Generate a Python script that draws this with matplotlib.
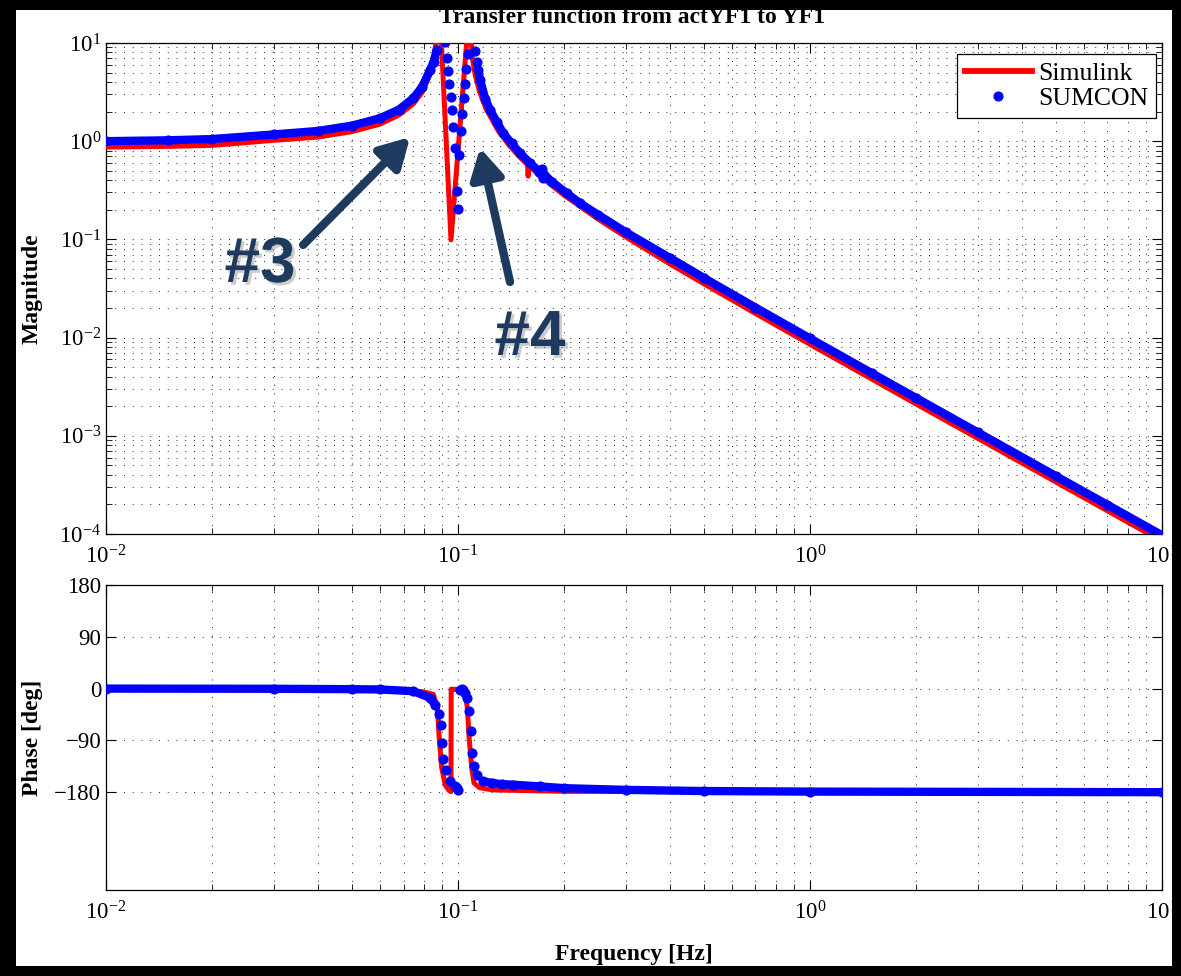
import numpy as np
import matplotlib.pyplot as plt
from matplotlib.patches import Rectangle
from matplotlib.lines import Line2D
import matplotlib.patheffects as pe

plt.rcParams['font.family'] = ['Liberation Serif', 'DejaVu Serif']
plt.rcParams['mathtext.fontset'] = 'stix'

# magnitude, Simulink (red line)
sim_mag_freq = [0.010, 0.015, 0.020, 0.030, 0.040, 0.050, 0.060, 0.068, 0.0746, 0.079,
                0.0833, 0.0852, 0.0870, 0.0886, 0.0955, 0.1074, 0.1100, 0.1120, 0.1150,
                0.1200, 0.1300, 0.1400, 0.1500, 0.1570, 0.1575, 0.1582, 0.1590, 0.1700,
                0.2000, 0.2500, 0.3000, 0.4000, 0.5000, 0.7000, 1.0, 1.5, 2.0, 3.0, 5.0,
                7.0, 10.0]
sim_mag = [0.87, 0.885, 0.905, 1.02, 1.10, 1.25, 1.49, 1.85, 2.40, 3.12,
           4.80, 6.60, 11.5, 25.0, 0.099, 20.0, 6.74, 4.67, 3.23,
           2.15, 1.28, 0.899, 0.685, 0.582, 0.575, 0.44, 0.565, 0.449,
           0.282, 0.161, 0.1055, 0.0562, 0.0352, 0.0176, 0.00852, 0.00377, 0.00211,
           0.000939, 0.000338, 0.000172, 0.0000844]

# magnitude, SUMCON (blue dots)
sum_mag_freq = [0.010, 0.015, 0.020, 0.030, 0.040, 0.050, 0.060, 0.068, 0.0746, 0.079,
                0.0833, 0.0852, 0.0870, 0.0890, 0.0910, 0.09185, 0.09288, 0.09385,
                0.09447, 0.09534, 0.09615, 0.09698, 0.09806, 0.09915, 0.10020, 0.10085,
                0.10178, 0.10285, 0.10366, 0.10434, 0.10537, 0.10655, 0.1075, 0.1090,
                0.1105, 0.1117, 0.1130, 0.1142, 0.1155, 0.1195, 0.1233, 0.1290, 0.1345,
                0.1420, 0.1500, 0.1600, 0.1700, 0.1728, 0.1740, 0.1760, 0.1850, 0.2036,
                0.2222, 0.2500, 0.3000, 0.4000, 0.5000, 0.7000, 1.0, 1.5, 2.0, 3.0, 5.0,
                7.0, 10.0]
sum_mag = [1.00, 1.02, 1.05, 1.17, 1.27, 1.44, 1.71, 2.10, 2.73, 3.55,
           5.30, 6.40, 8.50, 12.0, 30.0, 10.2, 7.08, 5.19,
           3.80, 2.82, 2.06, 1.405, 0.847, 0.311, 0.204, 0.724,
           1.27, 1.905, 2.73, 3.80, 5.44, 7.67, 12.0, 30.0,
           12.0, 8.35, 6.45, 5.31, 4.20, 2.70, 2.08, 1.55, 1.20,
           0.95, 0.753, 0.600, 0.490, 0.52, 0.42, 0.455, 0.385, 0.2946,
           0.2331, 0.178, 0.118, 0.0647, 0.0404, 0.0202, 0.0098, 0.00433, 0.00243,
           0.00108, 0.000388, 0.000198, 0.0000970]

# phase, Simulink
sim_ph_freq = [0.010, 0.050, 0.070, 0.080, 0.0851, 0.0874, 0.0885, 0.0899, 0.0919, 0.0940,
               0.09550, 0.09560, 0.1000, 0.1030, 0.1047, 0.1063, 0.1077, 0.1094, 0.1110,
               0.1150, 0.1250, 0.2000, 1.0, 10.0]
sim_ph = [0, -0.6, -2.5, -6, -10, -34, -90, -138, -167, -176,
          -179, -1, -1.5, -2.5, -4, -34, -91, -138, -164,
          -172, -176, -178.5, -179.7, -180]

# phase, SUMCON
sum_ph_freq = [0.010, 0.030, 0.050, 0.060, 0.0746, 0.0833, 0.0860, 0.0885, 0.0893, 0.08988,
               0.09083, 0.09226, 0.09490, 0.09806, 0.09955, 0.1003, 0.1013, 0.1024, 0.1035,
               0.1047, 0.1063, 0.1077, 0.1089, 0.1096, 0.1110, 0.1130, 0.1180, 0.1250,
               0.1330, 0.1436, 0.1710, 0.2000, 0.3000, 0.5000, 1.0, 10.0]
sum_ph = [0, -0.3, -1, -1.5, -4.5, -16, -28, -44, -63, -95,
          -122, -141, -161, -170, -172, -176, -2, -1, -2,
          -8, -16, -39, -73, -112, -135, -150, -161, -164,
          -166, -167, -170, -173, -176, -178, -179, -180]

navy = '#1F3A5F'
red = '#FF0000'
blue = '#0000FF'
grid_kw = dict(color='#222222', linestyle=(0, (1, 8)), linewidth=0.7)
ms = 6.3
band = 6.0

fig = plt.figure(figsize=(11.81, 9.76), dpi=100)
ax1 = fig.add_axes([0.0898, 0.4529, 0.8941, 0.5031])
ax2 = fig.add_axes([0.0898, 0.0881, 0.8941, 0.3125])

# magnitude
f_s = np.array(sum_mag_freq)
m_s = np.array(sum_mag)
ax1.plot(sim_mag_freq, sim_mag, color=red, lw=3.6, zorder=3)
ax1.plot(np.where(f_s < 0.0875, f_s, np.nan), m_s, color=blue, lw=band,
         solid_capstyle='round', zorder=4)
ax1.plot(np.where(f_s > 0.1130, f_s, np.nan), m_s, color=blue, lw=band,
         solid_capstyle='round', zorder=4)
ax1.plot(f_s, m_s, 'o', color=blue, ms=ms, mec=blue, zorder=5)
ax1.set_xscale('log')
ax1.set_yscale('log')
ax1.set_xlim(0.01, 10)
ax1.set_ylim(1e-4, 10)
ax1.set_ylabel('Magnitude', fontsize=17, fontweight='bold')
ax1.yaxis.set_label_coords(-0.06, 0.5)
ax1.grid(True, which='both', **grid_kw)

# phase
f_p = np.array(sum_ph_freq)
p_s = np.array(sum_ph)
ax2.plot(sim_ph_freq, sim_ph, color=red, lw=3.6, zorder=3)
ax2.plot(np.where(f_p < 0.0885, f_p, np.nan), p_s, color=blue, lw=band,
         solid_capstyle='round', zorder=4)
ax2.plot(np.where(f_p >= 0.1180, f_p, np.nan), p_s, color=blue, lw=band,
         solid_capstyle='round', zorder=4)
ax2.plot(f_p, p_s, 'o', color=blue, ms=ms, mec=blue, zorder=5)
ax2.set_xscale('log')
ax2.set_xlim(0.01, 10)
ax2.set_ylim(-350, 180)
ax2.set_yticks([-180, -90, 0, 90, 180])
ax2.set_ylabel('Phase [deg]', fontsize=17, fontweight='bold')
ax2.yaxis.set_label_coords(-0.06, 0.5)
ax2.set_xlabel('Frequency [Hz]', fontsize=17, fontweight='bold', labelpad=14)
ax2.grid(True, which='both', axis='x', **grid_kw)
ax2.grid(True, which='major', axis='y', **grid_kw)

for ax in (ax1, ax2):
    ax.tick_params(which='both', direction='in', top=True, right=True, labelsize=16.5)
    ax.tick_params(which='major', length=7, width=0.8)
    ax.tick_params(which='minor', length=4, width=0.6)
    ax.tick_params(axis='x', pad=8)
    for s in ax.spines.values():
        s.set_linewidth(0.9)

handles = [Line2D([], [], color=red, lw=4.2),
           Line2D([], [], color=blue, marker='o', ls='none', ms=ms)]
leg = ax1.legend(handles, ['Simulink', 'SUMCON'], loc='upper right',
                 bbox_to_anchor=(0.9943, 0.9776), fontsize=18.5, frameon=True,
                 fancybox=False, framealpha=1, edgecolor='k', borderaxespad=0,
                 handlelength=2.6, handletextpad=0.25, labelspacing=0.1,
                 borderpad=0.3, numpoints=1)
leg.get_frame().set_linewidth(0.9)

fig.text(0.535, 1 - 23 / 976, 'Transfer function from actYF1 to YF1', ha='center',
         va='baseline', fontsize=17, fontweight='bold')

# annotation arrows
arrow_kw = dict(arrowstyle='-|>,head_length=0.8,head_width=0.45', color=navy, lw=6,
                mutation_scale=22, shrinkA=0, shrinkB=0)
ax1.annotate('', xy=(0.0731, 1.10), xytext=(0.0363, 0.0877), arrowprops=arrow_kw,
             zorder=6)
ax1.annotate('', xy=(0.1155, 0.853), xytext=(0.1405, 0.0368), arrowprops=arrow_kw,
             zorder=6)
shadow = [pe.withSimplePatchShadow(offset=(2, -2), shadow_rgbFace='gray', alpha=0.4)]
fig.text(260 / 1181, 1 - 265 / 976, '#3', ha='center', va='center', fontsize=46,
         fontweight='bold', color=navy, family='Liberation Sans', path_effects=shadow)
fig.text(530 / 1181, 1 - 338 / 976, '#4', ha='center', va='center', fontsize=46,
         fontweight='bold', color=navy, family='Liberation Sans', path_effects=shadow)

# black picture frame
W, H = 1181, 976
for x, y, w, h in [(0, 0, 16, H), (0, H - 10, W, 10), (W - 9, 0, 9, H), (0, 0, W, 10)]:
    fig.add_artist(Rectangle((x / W, y / H), w / W, h / H, transform=fig.transFigure,
                             facecolor='k', edgecolor='none', zorder=20))

fig.savefig('out.png', dpi=100)
